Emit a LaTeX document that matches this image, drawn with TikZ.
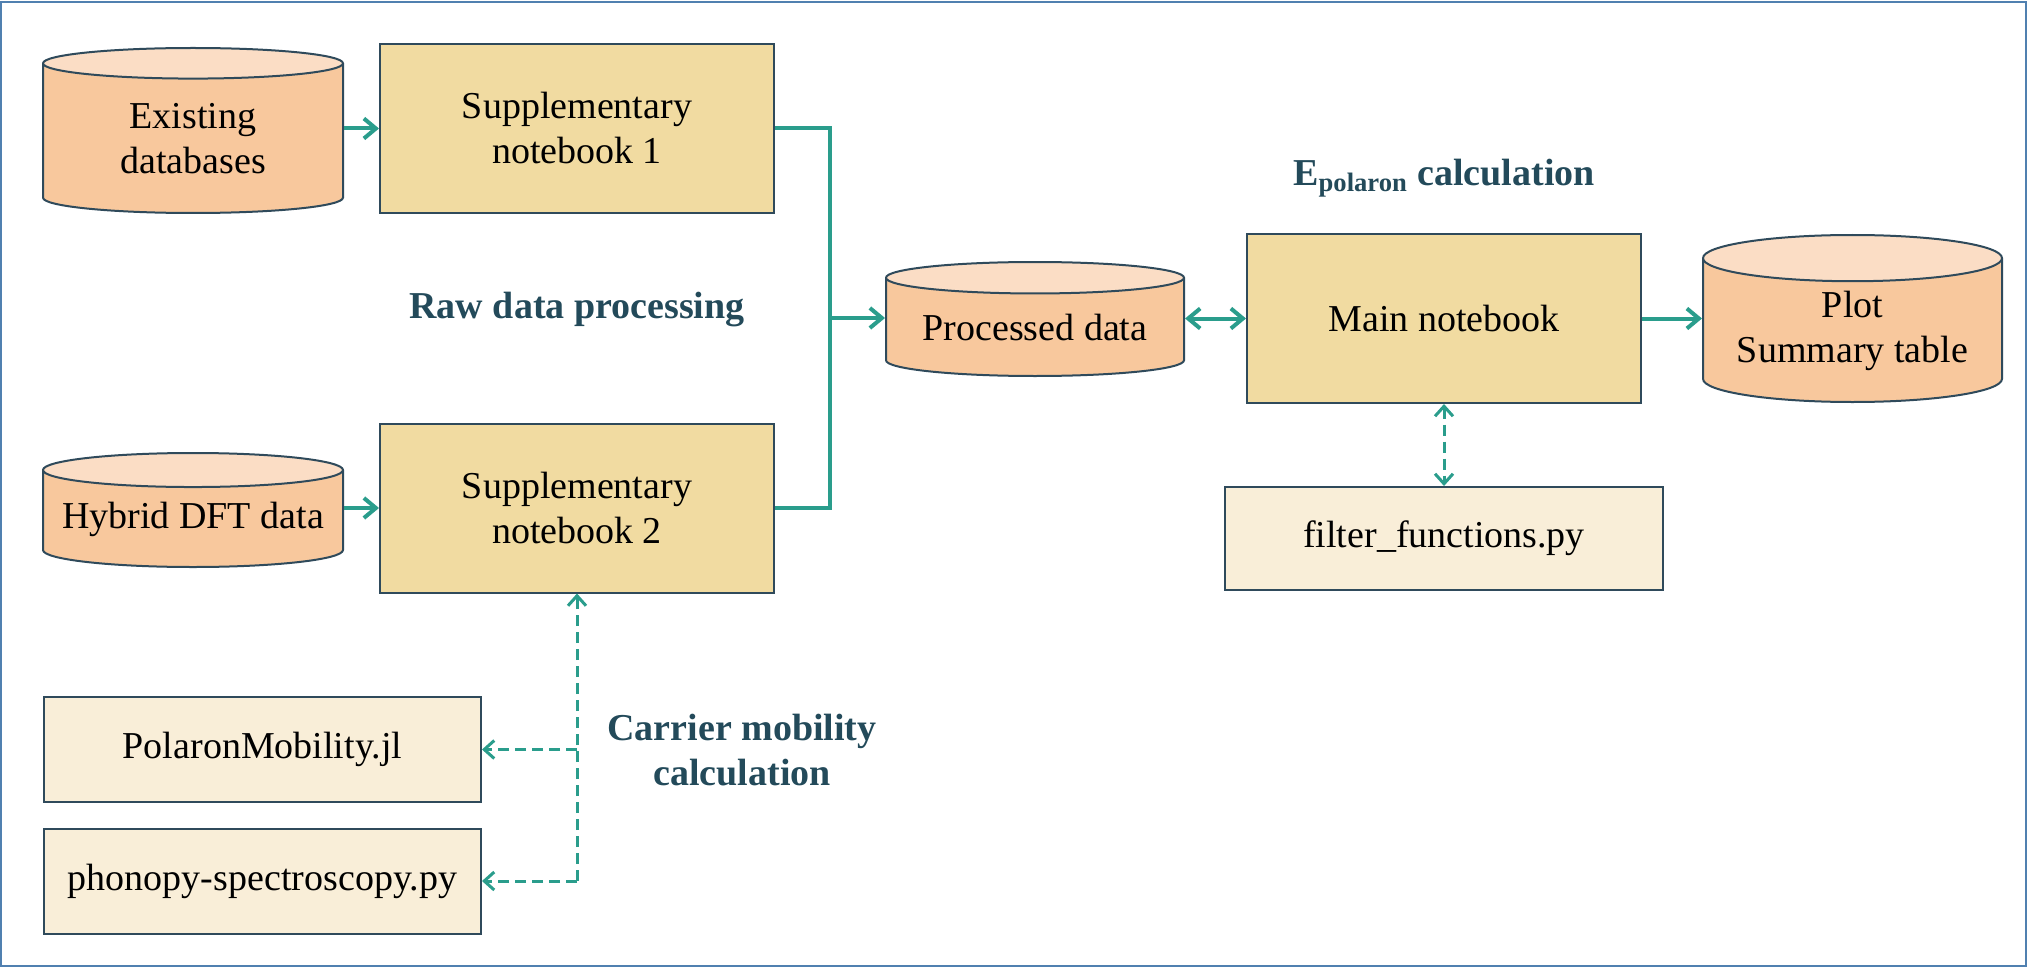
\documentclass[tikz,border=0pt]{standalone}
\usepackage{fontspec}
\setmainfont{Liberation Serif}
\usetikzlibrary{shapes.geometric,arrows.meta,positioning}

\definecolor{dbfill}{HTML}{F8C89D}
\definecolor{dbtop}{HTML}{FBDDC5}
\definecolor{nbfill}{HTML}{F1DBA1}
\definecolor{pyfill}{HTML}{F9EED8}
\definecolor{edge}{HTML}{2F4A5B}
\definecolor{flow}{HTML}{2A9D8C}
\definecolor{headcol}{HTML}{234A5A}
\definecolor{framecol}{HTML}{5080B0}

\tikzset{
  base/.style={draw=edge, line width=1pt, align=center, inner sep=0pt,
    font=\fontsize{19}{22.5}\selectfont},
  database/.style={base, cylinder, shape border rotate=90, anchor=shape center,
    cylinder uses custom fill, cylinder body fill=dbfill, cylinder end fill=dbtop},
  notebook/.style={base, rectangle, fill=nbfill, minimum width=197pt, minimum height=84.5pt},
  script/.style={base, rectangle, fill=pyfill, minimum width=218.5pt, minimum height=52.5pt},
  heading/.style={font=\fontsize{19}{22.5}\selectfont\bfseries, text=headcol, align=center},
  flowline/.style={draw=flow, line width=2pt, -{Straight Barb[length=6pt,width=10pt]}},
  helper/.style={draw=flow, line width=1.5pt, dash pattern=on 5.5pt off 3pt,
    -{Straight Barb[length=5pt,width=9pt]}}
}

\begin{document}
\begin{tikzpicture}[x=0.5pt,y=-0.5pt]
  \useasboundingbox (0,0) rectangle (2027,968);
  \draw[framecol, line width=1pt] (1,2) rectangle (2026,966);

  % raw data
  \node[database, minimum width=150pt, minimum height=82.5pt, aspect=0.21] (exist) at (193,130.5) {Existing\\databases};
  \node[database, minimum width=150pt, minimum height=57pt, aspect=0.13] (hybrid) at (193,510) {Hybrid DFT data};
  \node[notebook] (sn1) at (577,128.5) {Supplementary\\notebook 1};
  \node[notebook] (sn2) at (577,508) {Supplementary\\notebook 2};

  % main part
  \node[database, minimum width=149pt, minimum height=57pt, aspect=0.14] (proc) at (1035,319) {Processed data};
  \node[notebook] (main) at (1444,318.5) {Main notebook};
  \node[database, minimum width=149.5pt, minimum height=83.5pt, aspect=0.2] (plot) at (1852.5,318.5) {Plot\\Summary table};
  \node[script, minimum width=219pt, minimum height=51.5pt] (filt) at (1444,538.5) {filter\_functions.py};

  % mobility scripts
  \node[script] (polmob) at (262.5,749.5) {PolaronMobility.jl};
  \node[script] (phon) at (262.5,881) {phonopy-spectroscopy.py};

  % labels
  \node[heading] (rawlbl) at (577,310) {Raw data processing};
  \node[heading] (epollbl) at (1444,178) {E\textsubscript{polaron} calculation};
  \node[heading] (mobllbl) at (742,750) {Carrier mobility\\calculation};

  % connectors
  \coordinate (merge) at (830,318);
  \draw[flowline] (sn1.west -| exist.east) -- (sn1.west);
  \draw[flowline] (sn2.west -| hybrid.east) -- (sn2.west);
  \draw[flowline, -] (sn1.east) -| (merge);
  \draw[flowline, -] (sn2.east) -| (merge);
  \draw[flowline] (merge) -- (merge -| proc.west);
  \draw[flowline, {Straight Barb[length=6pt,width=10pt]}-{Straight Barb[length=6pt,width=10pt]}] (main.west -| proc.east) -- (main.west);
  \draw[flowline] (main.east) -- (main.east -| plot.west);
  \draw[helper, {Straight Barb[length=5pt,width=9pt]}-{Straight Barb[length=5pt,width=9pt]}] (main.south) -- (filt.north);

  \draw[helper] (phon.east -| sn2.south) -- (sn2.south);
  \draw[helper] (polmob.east -| sn2.south) -- (polmob.east);
  \draw[helper] (phon.east -| sn2.south) -- (phon.east);
\end{tikzpicture}
\end{document}
